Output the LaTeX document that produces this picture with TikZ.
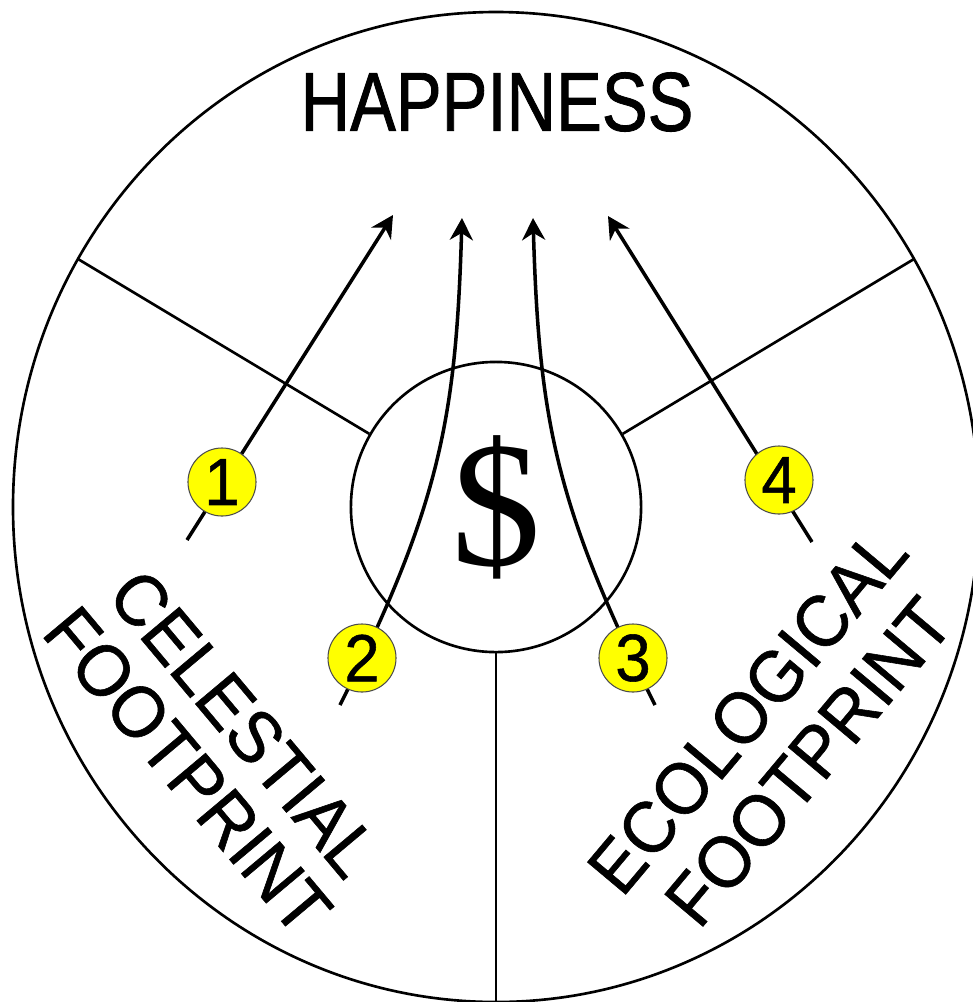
\documentclass[tikz,border=0pt]{standalone}
\usepackage{fontspec}
\setmainfont{Liberation Sans}
\newfontfamily\headfont[FakeStretch=0.82, FakeBold=1]{Liberation Sans}
\newfontfamily\labelfont[FakeStretch=0.95, FakeBold=0.8]{Liberation Sans}
\newfontfamily\moneyfont{Liberation Serif}
\usetikzlibrary{arrows.meta}
\definecolor{badgeyellow}{RGB}{255,255,0}

\begin{document}
\begin{tikzpicture}[x=0.01cm, y=-0.01cm,
  rim/.style={line width=0.75pt},
  flow/.style={line width=1pt, -{Stealth[length=2.2mm, width=2.3mm, inset=0.7mm]}},
  badge/.style={circle, draw=black!70, line width=0.3pt, fill=badgeyellow,
    minimum size=0.68cm, inner sep=0pt, font=\labelfont\fontsize{19}{19}\selectfont},
  footprint/.style={align=center, inner sep=0pt}]
  \clip (0,0) rectangle (973,1002);
  % Points
  \coordinate (C) at (496,507);
  \coordinate (rimL) at (78,259);   % 150 deg
  \coordinate (rimR) at (914,259);  % 30 deg
  \coordinate (rimB) at (496,1002); % 270 deg
  \coordinate (s1) at (187,540);  \coordinate (t1) at (393,215);
  \coordinate (s2) at (340,705);  \coordinate (t2) at (462,218);
  \coordinate (s3) at (655,705);  \coordinate (t3) at (533,218);
  \coordinate (s4) at (812,542);  \coordinate (t4) at (608,216);
  \coordinate (b1) at (222,482);  \coordinate (b2) at (362,658);
  \coordinate (b3) at (633,658);  \coordinate (b4) at (779,480);
  % Outer circle
  \draw[rim] (C) ellipse [x radius=483, y radius=495];
  % Money in the middle
  \node[circle, draw, rim, minimum size=2.9cm, inner sep=0pt,
    font=\moneyfont\fontsize{51}{51}\selectfont] (money) at (C) {\$};
  % Sector borders
  \draw[rim] (money.150) -- (rimL);
  \draw[rim] (money.30) -- (rimR);
  \draw[rim] (money.south) -- (rimB);
  % Ways to happiness
  \draw[flow] (s1) -- (t1);
  \draw[flow] (s2) .. controls (440,505) and (456,418) .. (t2);
  \draw[flow] (s3) .. controls (555,505) and (539,418) .. (t3);
  \draw[flow] (s4) -- (t4);
  % Numbers
  \foreach \k in {1,...,4}
    \node[badge] (n\k) at (b\k) {\k};
  % Labels
  \node[font=\headfont\fontsize{23.8}{24}\selectfont] (happy) at (497,102) {HAPPINESS};
  \node[footprint, rotate=-50, font=\labelfont\fontsize{20.7}{21}\selectfont]
    (celestial) at (216,747) {CELESTIAL\\FOOTPRINT};
  \node[footprint, rotate=50, font=\labelfont\fontsize{20.7}{22.7}\selectfont]
    (ecological) at (778,736) {ECOLOGICAL\\FOOTPRINT};
\end{tikzpicture}
\end{document}
